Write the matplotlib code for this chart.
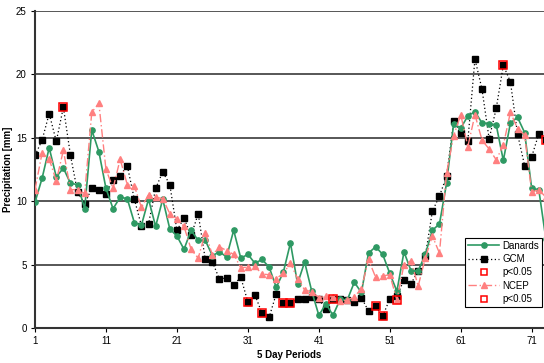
import numpy as np
import matplotlib
matplotlib.use('Agg')
import matplotlib.pyplot as plt
from matplotlib.lines import Line2D

plt.rcParams['font.family'] = ['Liberation Sans', 'DejaVu Sans']

periods = np.arange(1, 74)

danards = [9.9, 11.8, 14.2, 11.9, 12.6, 11.4, 11.3, 9.4, 15.6, 13.9,
           11.0, 9.4, 10.3, 10.2, 8.3, 8.1, 10.15, 8.0, 10.15, 7.8,
           7.25, 6.2, 7.7, 6.9, 6.9, 5.7, 6.0, 5.6, 7.7, 5.5,
           5.8, 5.1, 5.4, 4.8, 3.2, 4.4, 6.7, 3.5, 5.2, 2.9,
           1.0, 1.9, 1.0, 2.25, 2.2, 3.6, 2.8, 5.9, 6.4, 5.8,
           4.3, 2.9, 6.0, 4.5, 4.5, 5.8, 7.7, 8.2, 11.4, 16.1,
           15.75, 16.7, 17.05, 16.15, 16.1, 16.0, 13.2, 16.15, 16.6, 15.4,
           11.0, 10.9, 7.0]

gcm = [13.6, 14.8, 16.9, 14.7, 17.4, 13.6, 10.7, 9.8, 11.0, 10.9,
       10.55, 11.7, 12.0, 12.8, 10.15, 8.05, 8.2, 11.0, 12.3, 11.3,
       7.7, 8.65, 7.3, 9.0, 5.4, 5.2, 3.85, 3.95, 3.4, 4.0,
       2.05, 2.6, 1.15, 0.85, 2.7, 1.95, 1.95, 2.3, 2.3, 2.45,
       2.25, 1.5, 2.3, 2.3, 2.2, 2.05, 2.4, 1.33, 1.7, 0.92,
       2.3, 2.5, 3.8, 3.5, 4.5, 5.65, 9.2, 10.4, 11.95, 16.3,
       15.4, 14.75, 21.2, 18.8, 14.9, 17.3, 20.7, 19.4, 15.3, 12.8,
       13.5, 15.3, 14.8]

ncep = [10.9, 13.8, 13.3, 11.6, 14.0, 10.9, 10.9, 10.6, 17.0, 17.7,
        12.5, 11.0, 13.3, 11.3, 11.2, 9.5, 10.5, 10.3, 10.2, 9.0,
        8.6, 8.0, 6.2, 5.5, 7.5, 5.75, 6.4, 6.1, 5.8, 4.75,
        4.8, 4.85, 4.25, 4.2, 3.9, 4.3, 5.1, 3.9, 3.0, 2.85,
        2.4, 2.5, 2.45, 2.1, 2.2, 2.45, 3.1, 5.4, 4.0, 4.1,
        4.2, 2.2, 5.0, 5.3, 3.3, 5.5, 7.25, 5.9, 12.2, 15.15,
        16.8, 14.3, 16.8, 14.8, 14.1, 13.25, 14.4, 17.0, 15.7, 15.2,
        10.7, 10.9, 10.3]

gcm_sig = [5, 31, 33, 36, 37, 43, 49, 50, 67, 73]
ncep_sig = [52]

green = '#2e9963'
pink = '#ff8080'

fig = plt.figure(figsize=(5.44, 3.63), dpi=100)
ax = fig.add_axes([35 / 544, 35 / 363, 509 / 544, 317.3 / 363])

for y in [5, 10, 15, 20, 25]:
    ax.axhline(y, color='#3a3a3a', lw=1.2, zorder=0)

ax.plot(periods, danards, color=green, lw=1.2, marker='o', ms=3.8,
        mec=green, mfc=green, zorder=3)
ax.plot(periods, gcm, color='black', lw=0.9, ls=(0, (1, 2)), marker='s', ms=4.2,
        mec='black', mfc='black', zorder=2)
gs = [gcm[i - 1] for i in gcm_sig]
ax.plot(gcm_sig, gs, ls='none', marker='s', ms=6, mfc='none', mec='red', mew=1.1, zorder=5)
ax.plot(periods, ncep, color=pink, lw=1.0, ls=(0, (6, 2, 1, 2)), marker='^', ms=5,
        mec=pink, mfc=pink, zorder=4)
ns = [ncep[i - 1] for i in ncep_sig]
ax.plot(ncep_sig, ns, ls='none', marker='s', ms=6, mfc='none', mec='red', mew=1.1, zorder=5)

ax.set_xlim(1, 1 + 509.3 / 7.1)
ax.set_ylim(0, 25)
ax.set_xticks(range(1, 72, 10))
ax.set_yticks(range(0, 26, 5))
ax.tick_params(labelsize=7, length=3, width=0.8, colors='black', pad=3)
for s in ['top', 'right']:
    ax.spines[s].set_visible(False)
for s in ['left', 'bottom']:
    ax.spines[s].set_linewidth(1.5)
    ax.spines[s].set_color('#333333')

ax.set_xlabel('5 Day Periods', fontsize=7, fontweight='bold', labelpad=3)
ax.set_ylabel('Precipitation [mm]', fontsize=7, fontweight='bold', labelpad=2)

handles = [
    Line2D([], [], color=green, lw=1.2, marker='o', ms=3.8, mfc=green, mec=green),
    Line2D([], [], color='black', lw=0.9, ls=(0, (1, 2)), marker='s', ms=4.2),
    Line2D([], [], ls='none', marker='s', ms=5, mfc='none', mec='red', mew=1.1),
    Line2D([], [], color=pink, lw=1.0, ls=(0, (6, 2, 1, 2)), marker='^', ms=5, mfc=pink, mec=pink),
    Line2D([], [], ls='none', marker='s', ms=5, mfc='none', mec='red', mew=1.1),
]
labels = ['Danards', 'GCM', 'p<0.05', 'NCEP', 'p<0.05']
leg = ax.legend(handles, labels, loc='lower right', bbox_to_anchor=(0.996, 0.066),
                fontsize=7, frameon=True, fancybox=False, framealpha=1,
                edgecolor='black', handlelength=3.2, labelspacing=0.35,
                borderpad=0.3, handletextpad=0.3, borderaxespad=0)
leg.get_frame().set_linewidth(0.8)
leg.set_zorder(10)

fig.savefig('out.png', dpi=100)
